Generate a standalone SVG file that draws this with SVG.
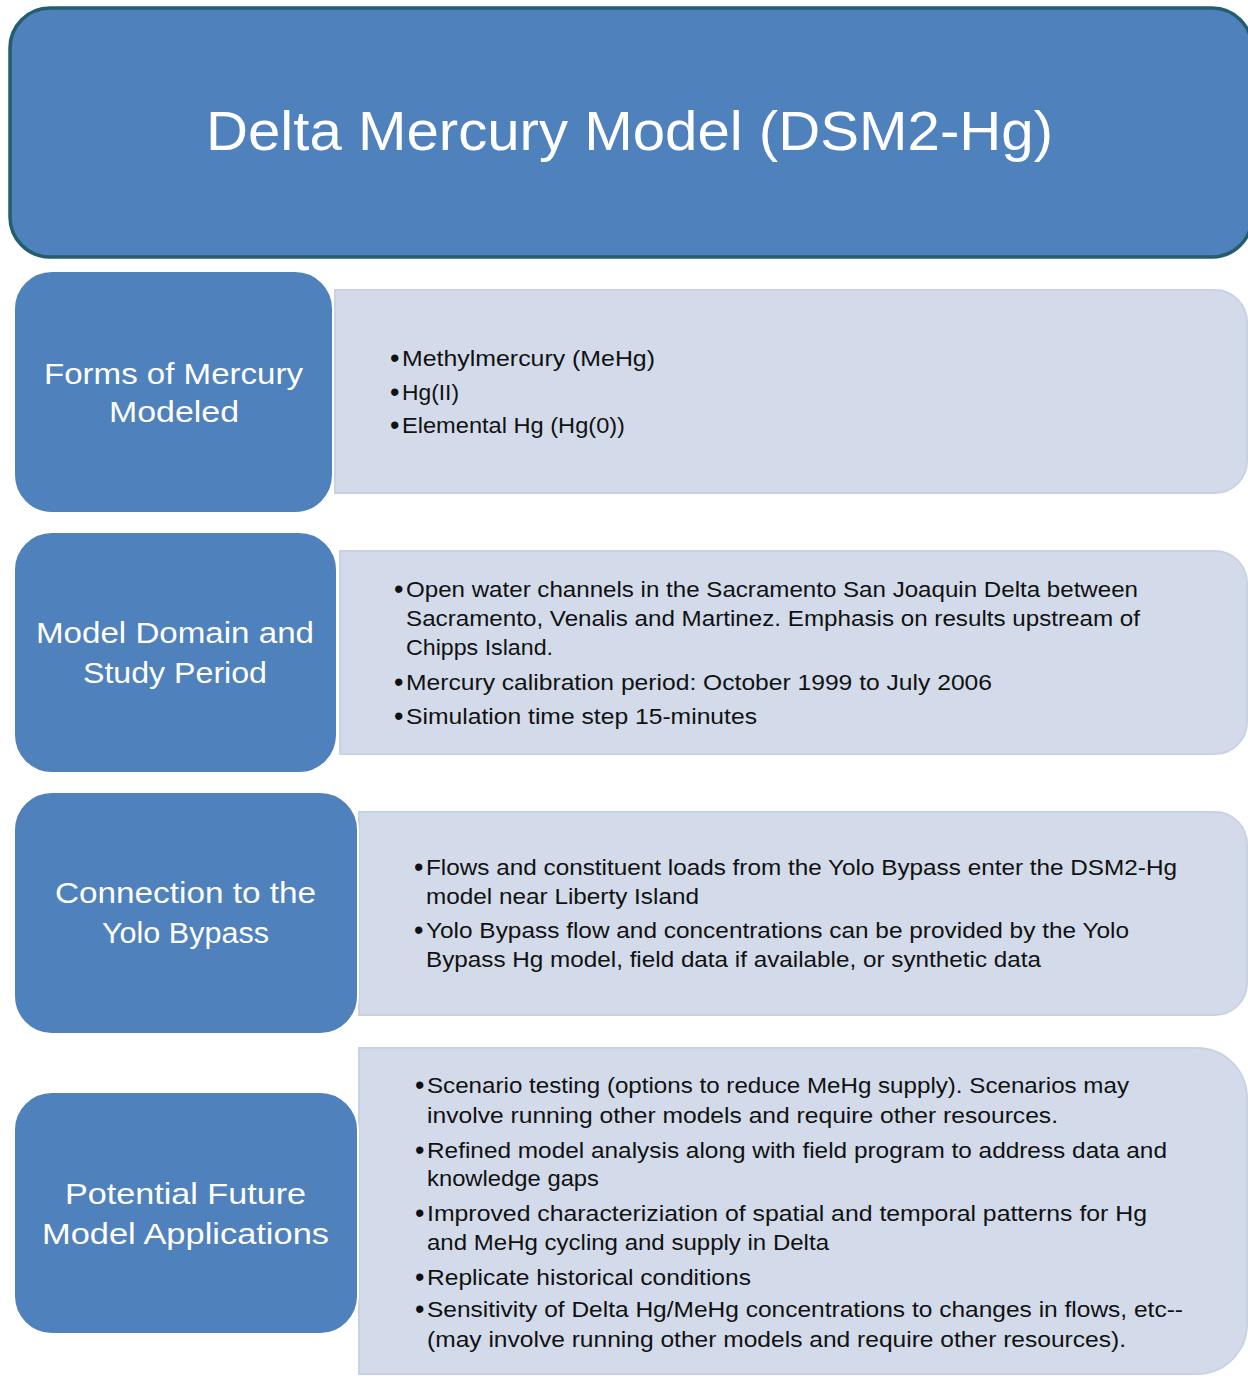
<svg xmlns="http://www.w3.org/2000/svg" width="1248" height="1376" viewBox="0 0 1248 1376">
  <style>
    .blue { fill: #4f81bd; stroke: #ffffff; stroke-width: 2; }
    .panel { fill: #d3dbea; stroke: #c9d2e5; stroke-width: 2; }
    .title { font-family: "Liberation Sans", Arial, sans-serif; font-size: 56px; fill: #ffffff; }
    .lbl { font-family: "Liberation Sans", Arial, sans-serif; font-size: 29px; fill: #ffffff; }
    .body { font-family: "Liberation Sans", Arial, sans-serif; font-size: 22.5px; fill: #111111; }
    .bul { font-family: "Liberation Sans", Arial, sans-serif; font-size: 27px; fill: #111111; }
  </style>
  <rect width="1248" height="1376" fill="#ffffff"/>

  <g id="title">
    <rect x="10" y="8" width="1242" height="249" rx="40" ry="40" fill="#4f81bd" stroke="#245d6c" stroke-width="3.5"/>
    <text class="title" x="206" y="150" textLength="847" lengthAdjust="spacingAndGlyphs">Delta Mercury Model (DSM2-Hg)</text>
  </g>

  <g id="panel-forms">
    <path class="panel" d="M335,290 H1215 A32,32 0 0 1 1247,322 V461 A32,32 0 0 1 1215,493 H335 Z"/>
    <text class="bul" x="390" y="367">•</text>
    <text class="body" x="402" y="366" textLength="253" lengthAdjust="spacingAndGlyphs">Methylmercury (MeHg)</text>
    <text class="bul" x="390" y="401">•</text>
    <text class="body" x="402" y="400" textLength="57" lengthAdjust="spacingAndGlyphs">Hg(II)</text>
    <text class="bul" x="390" y="434">•</text>
    <text class="body" x="402" y="433" textLength="223" lengthAdjust="spacingAndGlyphs">Elemental Hg (Hg(0))</text>
  </g>
  <g id="node-forms">
    <rect class="blue" x="14" y="271" width="319" height="242" rx="38" ry="38"/>
    <text class="lbl" x="44" y="384" textLength="259" lengthAdjust="spacingAndGlyphs">Forms of Mercury</text>
    <text class="lbl" x="109" y="422" textLength="130" lengthAdjust="spacingAndGlyphs">Modeled</text>
  </g>

  <g id="panel-domain">
    <path class="panel" d="M340,551 H1215 A32,32 0 0 1 1247,583 V722 A32,32 0 0 1 1215,754 H340 Z"/>
    <text class="bul" x="394" y="598">•</text>
    <text class="body" x="406" y="597" textLength="732" lengthAdjust="spacingAndGlyphs">Open water channels in the Sacramento San Joaquin Delta between</text>
    <text class="body" x="406" y="626" textLength="734" lengthAdjust="spacingAndGlyphs">Sacramento, Venalis and Martinez. Emphasis on results upstream of</text>
    <text class="body" x="406" y="655" textLength="147" lengthAdjust="spacingAndGlyphs">Chipps Island.</text>
    <text class="bul" x="394" y="691">•</text>
    <text class="body" x="406" y="690" textLength="586" lengthAdjust="spacingAndGlyphs">Mercury calibration period: October 1999 to July 2006</text>
    <text class="bul" x="394" y="725">•</text>
    <text class="body" x="406" y="724" textLength="351" lengthAdjust="spacingAndGlyphs">Simulation time step 15-minutes</text>
  </g>
  <g id="node-domain">
    <rect class="blue" x="14" y="532" width="323" height="241" rx="38" ry="38"/>
    <text class="lbl" x="36" y="643" textLength="278" lengthAdjust="spacingAndGlyphs">Model Domain and</text>
    <text class="lbl" x="83" y="683" textLength="184" lengthAdjust="spacingAndGlyphs">Study Period</text>
  </g>

  <g id="panel-yolo">
    <path class="panel" d="M359,812 H1215 A32,32 0 0 1 1247,844 V983 A32,32 0 0 1 1215,1015 H359 Z"/>
    <text class="bul" x="414" y="876">•</text>
    <text class="body" x="426" y="875" textLength="751" lengthAdjust="spacingAndGlyphs">Flows and constituent loads from the Yolo Bypass enter the DSM2-Hg</text>
    <text class="body" x="426" y="904" textLength="273" lengthAdjust="spacingAndGlyphs">model near Liberty Island</text>
    <text class="bul" x="414" y="939">•</text>
    <text class="body" x="426" y="938" textLength="703" lengthAdjust="spacingAndGlyphs">Yolo Bypass flow and concentrations can be provided by the Yolo</text>
    <text class="body" x="426" y="967" textLength="615" lengthAdjust="spacingAndGlyphs">Bypass Hg model, field data if available, or synthetic data</text>
  </g>
  <g id="node-yolo">
    <rect class="blue" x="14" y="792" width="344" height="242" rx="38" ry="38"/>
    <text class="lbl" x="55" y="903" textLength="261" lengthAdjust="spacingAndGlyphs">Connection to the</text>
    <text class="lbl" x="102" y="943" textLength="167" lengthAdjust="spacingAndGlyphs">Yolo Bypass</text>
  </g>

  <g id="panel-future">
    <path class="panel" d="M359,1048 H1197 A50,50 0 0 1 1247,1098 V1324 A50,50 0 0 1 1197,1374 H359 Z"/>
    <text class="bul" x="415" y="1094">•</text>
    <text class="body" x="427" y="1093" textLength="702" lengthAdjust="spacingAndGlyphs">Scenario testing (options to reduce MeHg supply). Scenarios may</text>
    <text class="body" x="427" y="1123" textLength="631" lengthAdjust="spacingAndGlyphs">involve running other models and require other resources.</text>
    <text class="bul" x="415" y="1159">•</text>
    <text class="body" x="427" y="1158" textLength="740" lengthAdjust="spacingAndGlyphs">Refined model analysis along with field program to address data and</text>
    <text class="body" x="427" y="1186" textLength="172" lengthAdjust="spacingAndGlyphs">knowledge gaps</text>
    <text class="bul" x="415" y="1222">•</text>
    <text class="body" x="427" y="1221" textLength="720" lengthAdjust="spacingAndGlyphs">Improved characteriziation of spatial and temporal patterns for Hg</text>
    <text class="body" x="427" y="1250" textLength="402" lengthAdjust="spacingAndGlyphs">and MeHg cycling and supply in Delta</text>
    <text class="bul" x="415" y="1286">•</text>
    <text class="body" x="427" y="1285" textLength="324" lengthAdjust="spacingAndGlyphs">Replicate historical conditions</text>
    <text class="bul" x="415" y="1318">•</text>
    <text class="body" x="427" y="1317" textLength="756" lengthAdjust="spacingAndGlyphs">Sensitivity of Delta Hg/MeHg concentrations to changes in flows, etc--</text>
    <text class="body" x="427" y="1347" textLength="699" lengthAdjust="spacingAndGlyphs">(may involve running other models and require other resources).</text>
  </g>
  <g id="node-future">
    <rect class="blue" x="14" y="1092" width="344" height="242" rx="38" ry="38"/>
    <text class="lbl" x="65" y="1204" textLength="241" lengthAdjust="spacingAndGlyphs">Potential Future</text>
    <text class="lbl" x="42" y="1244" textLength="287" lengthAdjust="spacingAndGlyphs">Model Applications</text>
  </g>

  <g id="connectors"></g>
</svg>
